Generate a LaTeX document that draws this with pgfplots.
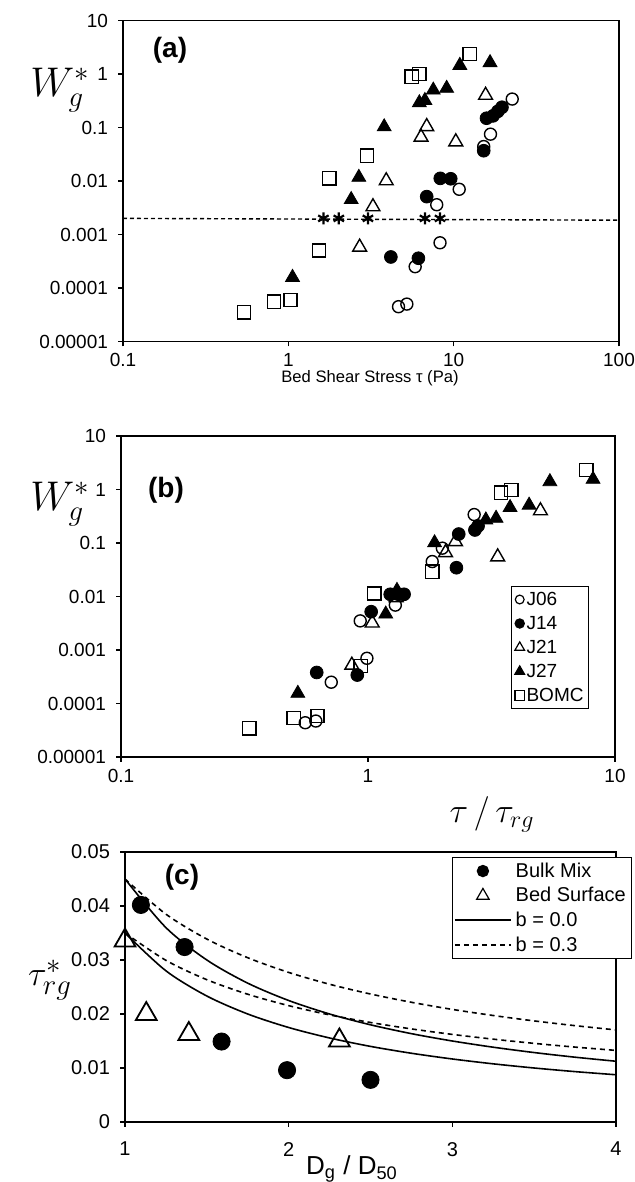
\documentclass[border=0pt]{standalone}
\usepackage{fontspec}
\setmainfont{Liberation Sans}
\usepackage{pgfplots}
\pgfplotsset{compat=1.18}
\pgfplotsset{
  panel/.style={scale only axis, anchor=south west, clip=false,
    tick align=outside, xtick pos=bottom, ytick pos=left,
    xminorticks=false, yminorticks=false, major tick length=2.5pt,
    axis line style={line width=0.6pt}, every tick/.style={black, line width=0.6pt},
    tick label style={font=\fontsize{9.5}{11}\selectfont},
    yticklabel style={xshift=-1.5pt},
    scaled ticks=false,
    /pgf/number format/assume math mode=true},
  J06/.style={only marks, mark=o, mark size=3pt, line width=0.7pt},
  J14/.style={only marks, mark=*, mark size=3.2pt},
  J21/.style={only marks, mark=triangle, mark size=4pt, line width=0.7pt},
  J27/.style={only marks, mark=triangle*, mark size=4pt},
  BOMC/.style={only marks, mark=square, mark size=3.3pt, line width=0.7pt},
}
\begin{document}
\begin{tikzpicture}
\path[use as bounding box] (0pt,0pt) rectangle (317.5pt,591pt);

% ---------------- (a) ----------------
\begin{axis}[panel, at={(61.5pt,420.25pt)}, width=248pt, height=160.5pt,
  xmode=log, ymode=log, xmin=0.1, xmax=100, ymin=1e-5, ymax=10,
  xtick={0.1,1,10,100}, xticklabels={0.1,1,10,100},
  ytick={1e-5,1e-4,1e-3,1e-2,0.1,1,10},
  yticklabels={0.00001,0.0001,0.001,0.01,0.1,1,10}]
\addplot[dash pattern=on 2pt off 1.5pt, line width=0.7pt] coordinates {(0.1,0.002) (100,0.00185)};
\addplot[J06] coordinates {(22.6,0.34) (16.7,0.075) (15.2,0.044) (10.8,0.007) (7.9,0.0036) (8.27,0.0007) (5.85,0.00025) (4.64,0.0000447) (5.21,0.00005)};
\addplot[J14] coordinates {(15.8,0.149) (17.3,0.165) (18.5,0.2) (19.6,0.239) (15.2,0.0368) (8.3,0.0112) (9.6,0.011) (6.87,0.0051) (4.17,0.00038) (6.12,0.00036)};
\addplot[J21] coordinates {(15.6,0.40) (6.87,0.104) (6.35,0.066) (10.3,0.054) (3.91,0.0101) (3.25,0.0033) (2.7,0.00058)};
\addplot[J27] coordinates {(10.9,1.45) (16.6,1.63) (7.53,0.50) (9.07,0.54) (6.2,0.29) (6.7,0.32) (3.8,0.103) (2.67,0.0117) (2.4,0.0045) (1.06,0.000158)};
\addplot[BOMC] coordinates {(12.5,2.36) (5.58,0.89) (6.2,1.0) (2.99,0.0297) (1.77,0.0112) (1.53,0.0005) (0.82,0.0000555) (1.03,0.00006) (0.54,0.0000352)};
\addplot[only marks, mark=asterisk, mark size=3pt, line width=1.1pt] coordinates {(1.63,0.002) (2.02,0.002) (3.03,0.002) (6.71,0.002) (8.27,0.002)};
\end{axis}
\node[font=\fontsize{21}{24}\selectfont] at (30pt,546pt) {$W_g^{*}$};
\node[font=\fontsize{14}{16}\selectfont\bfseries] at (85pt,566pt) {(a)};
\node[font=\fontsize{8.3}{10}\selectfont] at (185pt,402pt) {Bed Shear Stress τ (Pa)};

% ---------------- (b) ----------------
\begin{axis}[panel, at={(60.5pt,212.5pt)}, width=247pt, height=160.5pt,
  xmode=log, ymode=log, xmin=0.1, xmax=10, ymin=1e-5, ymax=10,
  xtick={0.1,1,10}, xticklabels={0.1,1,10},
  ytick={1e-5,1e-4,1e-3,1e-2,0.1,1,10},
  yticklabels={0.00001,0.0001,0.001,0.01,0.1,1,10},
  legend image code/.code={\draw[mark repeat=2,mark phase=2] plot coordinates {(0pt,0pt)(2.5pt,0pt)(5pt,0pt)};},
  legend style={at={(0.79,0.533)}, anchor=north west, draw=black, line width=0.6pt,
    font=\fontsize{9.5}{11}\selectfont, inner xsep=1.5pt, inner ysep=0.5pt, row sep=0pt,
    nodes={text height=7pt, text depth=1pt, inner ysep=2pt, inner xsep=1pt}},
  legend cell align=left]
\addplot[J06, forget plot] coordinates {(2.69,0.34) (2.0,0.08) (1.82,0.045) (1.29,0.0069) (0.93,0.0035) (0.99,0.0007) (0.71,0.00025) (0.557,0.0000437) (0.615,0.000047)};
\addplot[J14, forget plot] coordinates {(2.71,0.175) (2.79,0.208) (2.33,0.147) (2.28,0.0345) (1.23,0.011) (1.33,0.011) (1.4,0.011) (1.03,0.0052) (0.905,0.00034) (0.62,0.00038)};
\addplot[J21, forget plot] coordinates {(4.99,0.40) (2.26,0.106) (2.06,0.066) (3.35,0.055) (1.3,0.0095) (1.04,0.0032) (0.86,0.00052)};
\addplot[J27, forget plot] coordinates {(8.15,1.55) (5.45,1.4) (3.76,0.46) (4.49,0.51) (3.0,0.27) (3.3,0.29) (1.86,0.101) (1.31,0.013) (1.18,0.0047) (0.52,0.000155)};
\addplot[BOMC, forget plot] coordinates {(7.66,2.31) (3.46,0.87) (3.8,0.98) (1.82,0.029) (1.06,0.0114) (0.935,0.0005) (0.5,0.000054) (0.625,0.000058) (0.331,0.0000344)};
\addlegendimage{only marks, mark=o, mark size=2.2pt, line width=0.6pt}
\addlegendentry{J06}
\addlegendimage{only marks, mark=*, mark size=2.3pt}
\addlegendentry{J14}
\addlegendimage{only marks, mark=triangle, mark size=2.8pt, line width=0.6pt}
\addlegendentry{J21}
\addlegendimage{only marks, mark=triangle*, mark size=2.8pt}
\addlegendentry{J27}
\addlegendimage{only marks, mark=square, mark size=2.4pt, line width=0.6pt}
\addlegendentry{BOMC}
\end{axis}
\node[font=\fontsize{21}{24}\selectfont] at (30pt,339pt) {$W_g^{*}$};
\node[font=\fontsize{14}{16}\selectfont\bfseries] at (83pt,346pt) {(b)};
\node[font=\fontsize{17}{20}\selectfont] at (246pt,184pt) {$\tau\,/\,\tau_{rg}$};

% ---------------- (c) ----------------
\begin{axis}[panel, at={(62.5pt,30pt)}, width=245.5pt, height=135pt,
  xmin=1, xmax=4, ymin=0, ymax=0.05,
  xtick={1,2,3,4}, ytick={0,0.01,0.02,0.03,0.04,0.05},
  yticklabels={0,0.01,0.02,0.03,0.04,0.05},
  xticklabel style={yshift=-4pt, font=\fontsize{10}{11}\selectfont},
  yticklabel style={font=\fontsize{10}{11}\selectfont},
  legend image code/.code={\draw[mark repeat=2,mark phase=2] plot coordinates {(0pt,0pt)(14pt,0pt)(28pt,0pt)};},
  legend style={at={(0.665,0.981)}, anchor=north west, draw=black, line width=0.6pt, fill=white,
    font=\fontsize{10}{12}\selectfont, inner xsep=1pt, inner ysep=0.5pt, row sep=0pt,
    nodes={text height=7.3pt, text depth=1pt, inner ysep=2pt, inner xsep=2pt}},
  legend cell align=left]
\addplot[line width=0.8pt, smooth, forget plot] coordinates {(1,0.045) (1.25,0.036) (1.5,0.03) (1.75,0.02571) (2,0.0225) (2.25,0.02) (2.5,0.018) (2.75,0.01636) (3,0.015) (3.25,0.01385) (3.5,0.01286) (3.75,0.012) (4,0.01125)};
\addplot[line width=0.8pt, smooth, forget plot] coordinates {(1,0.035) (1.25,0.028) (1.5,0.02333) (1.75,0.02) (2,0.0175) (2.25,0.01556) (2.5,0.014) (2.75,0.01273) (3,0.01167) (3.25,0.01077) (3.5,0.01) (3.75,0.00933) (4,0.00875)};
\addplot[line width=0.8pt, dash pattern=on 2.5pt off 2pt, smooth, forget plot] coordinates {(1,0.045) (1.25,0.03849) (1.5,0.03388) (1.75,0.03042) (2,0.0277) (2.25,0.02551) (2.5,0.0237) (2.75,0.02217) (3,0.02085) (3.25,0.01972) (3.5,0.01872) (3.75,0.01784) (4,0.01705)};
\addplot[line width=0.8pt, dash pattern=on 2.5pt off 2pt, smooth, forget plot] coordinates {(1,0.035) (1.25,0.02994) (1.5,0.02635) (1.75,0.02366) (2,0.02155) (2.25,0.01984) (2.5,0.01843) (2.75,0.01724) (3,0.01622) (3.25,0.01534) (3.5,0.01456) (3.75,0.01387) (4,0.01326)};
\addplot[only marks, mark=*, mark size=4.3pt, forget plot] coordinates {(1.097,0.0402) (1.364,0.0324) (1.59,0.0149) (1.99,0.0096) (2.5,0.0078)};
\addplot[only marks, mark=triangle, mark size=6pt, line width=0.9pt, mark options={fill=white}, forget plot] coordinates {(1.0,0.0336) (1.13,0.0200) (1.39,0.0163) (2.31,0.0151)};
\addlegendimage{only marks, mark=*, mark size=2.8pt}
\addlegendentry{Bulk Mix}
\addlegendimage{only marks, mark=triangle, mark size=3.6pt, line width=0.6pt}
\addlegendentry{Bed Surface}
\addlegendimage{line width=0.8pt}
\addlegendentry{b = 0.0}
\addlegendimage{line width=0.8pt, dash pattern=on 2.5pt off 2pt}
\addlegendentry{b = 0.3}
\end{axis}
\node[font=\fontsize{19}{22}\selectfont] at (25pt,101pt) {$\tau_{rg}^{*}$};
\node[font=\fontsize{14}{16}\selectfont\bfseries] at (91pt,152.5pt) {(c)};
\node[font=\fontsize{13}{15}\selectfont] at (176pt,6.5pt) {D\textsubscript{g} / D\textsubscript{50}};
\end{tikzpicture}
\end{document}
